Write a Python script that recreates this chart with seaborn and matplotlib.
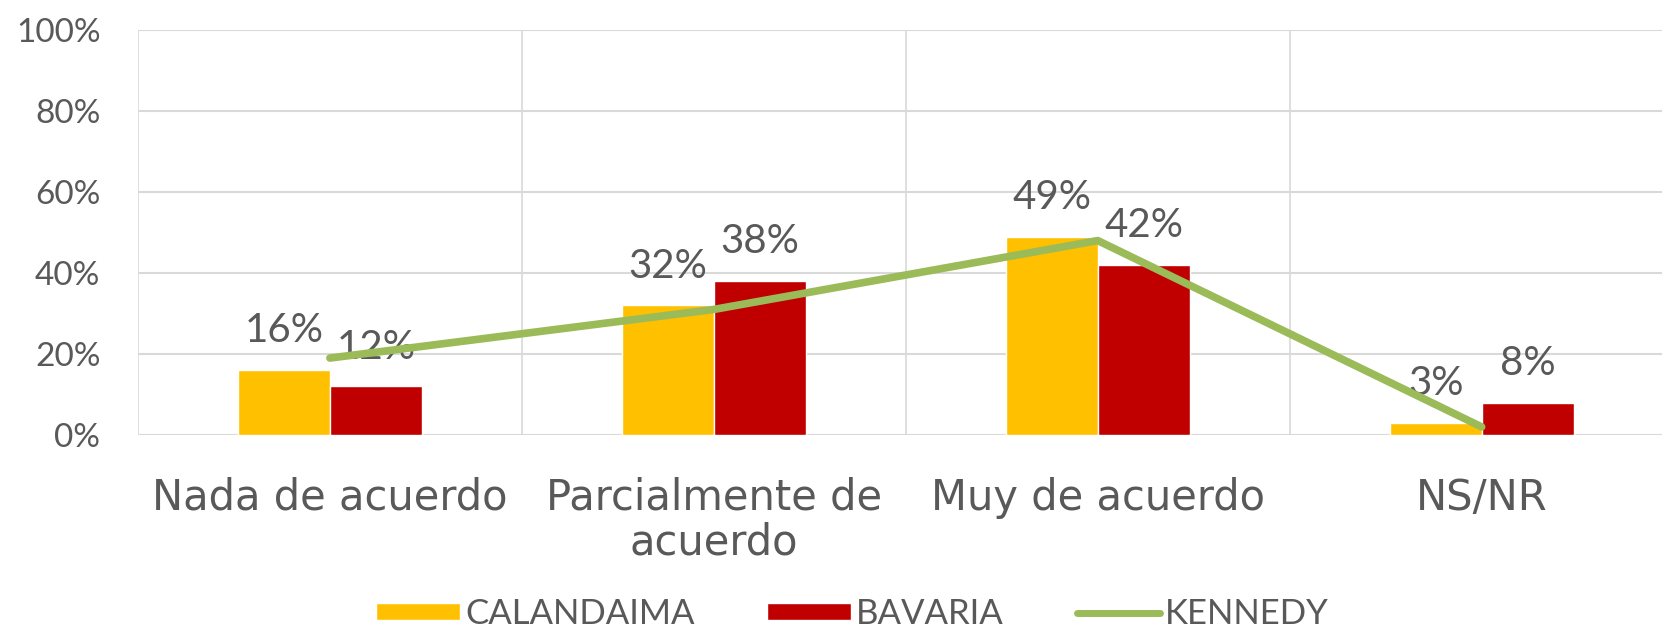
import pandas as pd
import matplotlib.pyplot as plt
import seaborn as sns
from matplotlib.patches import Patch
from matplotlib.lines import Line2D

categories = ['Nada de acuerdo', 'Parcialmente de\nacuerdo', 'Muy de acuerdo', 'NS/NR']
calandaima = [16, 32, 49, 3]
bavaria = [12, 38, 42, 8]
kennedy = [19, 31, 48, 2]

series_names = ['CALANDAIMA', 'BAVARIA', 'KENNEDY']
colors = {'CALANDAIMA': '#FFC000', 'BAVARIA': '#C00000', 'KENNEDY': '#9BBB59'}
text_color = '#595959'
grid_color = '#D9D9D9'

sns.set_style('white')
plt.rcParams['font.family'] = ['Lato', 'DejaVu Sans']

bars = pd.DataFrame({
    'categoria': categories * 2,
    'serie': ['CALANDAIMA'] * 4 + ['BAVARIA'] * 4,
    'valor': calandaima + bavaria,
})

fig = plt.figure(figsize=(16.62, 6.36), dpi=100)
ax = fig.add_axes([0.083, 0.316, 0.924, 0.637])

sns.barplot(data=bars, x='categoria', y='valor', hue='serie', order=categories,
            hue_order=['CALANDAIMA', 'BAVARIA'],
            palette=[colors['CALANDAIMA'], colors['BAVARIA']],
            width=0.48, gap=0, saturation=1, legend=False, ax=ax, zorder=2)

for cont in ax.containers:
    ax.bar_label(cont, fmt='%d%%', padding=15, fontsize=29, color=text_color)

sns.pointplot(x=categories, y=kennedy, order=categories, color=colors['KENNEDY'],
              markers='', linewidth=5.5, ax=ax, zorder=3)

ax.set_xlim(-0.5, 3.5)
ax.set_ylim(0, 100)
ax.set_yticks(range(0, 101, 20))
ax.set_yticklabels([f'{v}%' for v in range(0, 101, 20)])
ax.set_xticks(range(len(categories)))
ax.set_xticklabels(categories, family=['DejaVu Sans'], linespacing=1.1)
ax.set_xticks([i - 0.5 for i in range(len(categories) + 1)], minor=True)
ax.grid(axis='y', which='major', color=grid_color, linewidth=1.5, zorder=0)
ax.grid(axis='x', which='minor', color=grid_color, linewidth=1.2, zorder=0)
ax.set_axisbelow(True)
ax.set_xlabel('')
ax.set_ylabel('')
for s in ax.spines.values():
    s.set_visible(False)
ax.tick_params(axis='y', length=0, pad=27, labelsize=24, labelcolor=text_color)
ax.tick_params(axis='x', which='both', length=0, pad=30, labelsize=30, labelcolor=text_color)

handles = [Patch(facecolor=colors['CALANDAIMA']),
           Patch(facecolor=colors['BAVARIA']),
           Line2D([0], [0], color=colors['KENNEDY'], linewidth=5)]
fig.legend(handles, series_names, loc='center', bbox_to_anchor=(0.513, 0.035),
           ncol=3, frameon=False, fontsize=25, labelcolor=text_color,
           handlelength=2.4, handleheight=0.4, handletextpad=0.15, columnspacing=2.1)

fig.savefig('out.png', dpi=100)
